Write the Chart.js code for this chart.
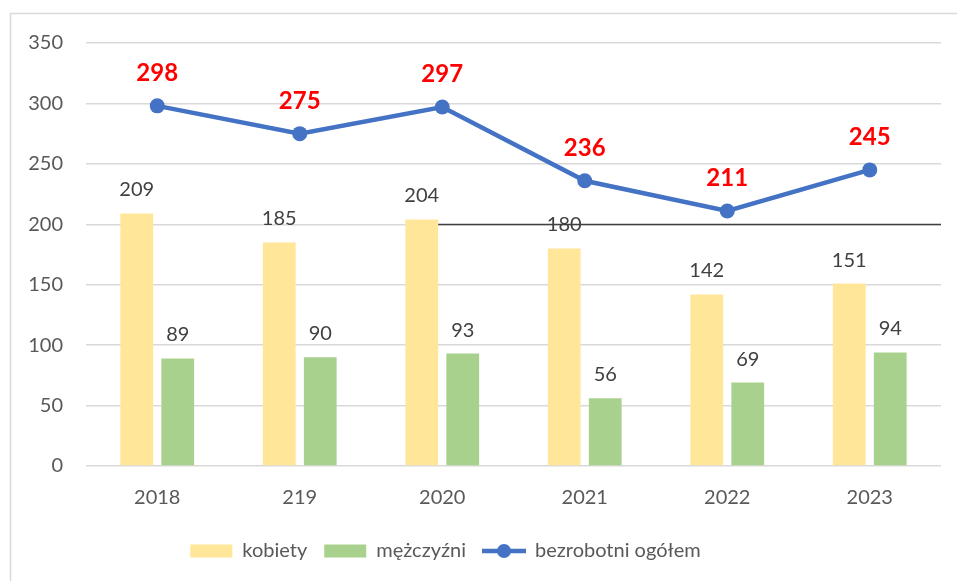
<!DOCTYPE html>
<html><head><meta charset="utf-8">
<script src="https://cdn.jsdelivr.net/npm/chart.js@4/dist/chart.umd.min.js"></script>
<style>html,body{margin:0;padding:0;background:#fff}</style>
</head><body>
<canvas id="c" width="957" height="581"></canvas>
<script>
const categories = ['2018', '219', '2020', '2021', '2022', '2023'];
const kobiety = [209, 185, 204, 180, 142, 151];
const mezczyzni = [89, 90, 93, 56, 69, 94];
const ogolem = [298, 275, 297, 236, 211, 245];
const seriesNames = ['kobiety', 'mężczyźni', 'bezrobotni ogółem'];
const yMin = 0, yMax = 350, yStep = 50;
const darkLineValue = 200;

const FONT = 'Lato, "Open Sans", sans-serif';
const BLUE = '#4472C4', YELLOW = '#FFE699', GREEN = '#A9D18E';

const lineIcon = document.createElement('canvas');
lineIcon.width = 44; lineIcon.height = 16;
(function(){
  const g = lineIcon.getContext('2d');
  g.strokeStyle = BLUE; g.lineWidth = 4.5;
  g.beginPath(); g.moveTo(0, 8); g.lineTo(44, 8); g.stroke();
  g.fillStyle = BLUE; g.beginPath(); g.arc(22, 8, 7, 0, Math.PI * 2); g.fill();
})();

const decor = {
  id: 'decor',
  beforeDraw(chart) {
    const ctx = chart.ctx;
    ctx.save();
    ctx.strokeStyle = '#D9D9D9'; ctx.lineWidth = 1.5;
    ctx.strokeRect(10.5, 13.5, 1000, 700);
    ctx.restore();
  },
  afterLayout(chart) {
    chart.legend.left -= 25; chart.legend.right -= 25;
  },
  afterDatasetsDraw(chart) {
    const ctx = chart.ctx;
    ctx.save();
    ctx.textAlign = 'center';
    ctx.textBaseline = 'alphabetic';
    chart.data.datasets.forEach((ds, di) => {
      const meta = chart.getDatasetMeta(di);
      meta.data.forEach((el, i) => {
        const v = ds.data[i];
        if (ds.type === 'line') {
          ctx.font = 'bold 24px ' + FONT; ctx.fillStyle = '#FF0000';
          ctx.fillText(String(v), el.x, el.y - 25);
        } else {
          ctx.font = '20px ' + FONT; ctx.fillStyle = '#404040';
          ctx.fillText(String(v), el.x, el.y - 17);
        }
      });
    });
    ctx.restore();
  },
  afterDraw(chart) {
    const ctx = chart.ctx;
    const y = Math.round(chart.scales.y.getPixelForValue(darkLineValue)) + 0.5;
    const bar = chart.getDatasetMeta(0).data[2];
    ctx.save();
    ctx.strokeStyle = '#404040'; ctx.lineWidth = 1.5;
    ctx.beginPath(); ctx.moveTo(bar.x + bar.width / 2, y); ctx.lineTo(chart.chartArea.right, y); ctx.stroke();
    ctx.restore();
  }
};

new Chart(document.getElementById('c'), {
  data: {
    labels: categories,
    datasets: [
      { type: 'bar', label: seriesNames[0], data: kobiety, backgroundColor: YELLOW, borderWidth: 0,
        categoryPercentage: 0.575, barPercentage: 0.8 },
      { type: 'bar', label: seriesNames[1], data: mezczyzni, backgroundColor: GREEN, borderWidth: 0,
        categoryPercentage: 0.575, barPercentage: 0.8 },
      { type: 'line', label: seriesNames[2], data: ogolem, borderColor: BLUE, backgroundColor: BLUE,
        borderWidth: 4.5, pointRadius: 7.5, pointBorderWidth: 0, pointBackgroundColor: BLUE, tension: 0 }
    ]
  },
  options: {
    responsive: false,
    animation: false,
    devicePixelRatio: 1,
    layout: { padding: { left: 0, right: 16, top: 43, bottom: 10 } },
    plugins: {
      tooltip: { enabled: false },
      legend: {
        position: 'bottom',
        labels: {
          usePointStyle: true, pointStyleWidth: 42, boxHeight: 13, padding: 17,
          color: '#595959', font: { family: FONT, size: 20 },
          generateLabels(chart) {
            const items = Chart.defaults.plugins.legend.labels.generateLabels(chart);
            items.forEach((it, i) => {
              if (i < 2) { it.pointStyle = 'rect'; it.lineWidth = 0; it.strokeStyle = it.fillStyle; }
              else { it.pointStyle = lineIcon; it.lineWidth = 0; }
            });
            return items;
          }
        }
      }
    },
    scales: {
      x: {
        grid: { display: false, drawTicks: false },
        border: { display: false },
        ticks: { color: '#595959', font: { family: FONT, size: 20 }, padding: 20 },
        afterFit(s) { s.height = 58; }
      },
      y: {
        min: yMin, max: yMax,
        grid: { color: '#D9D9D9', lineWidth: 1.5, drawTicks: false },
        border: { display: false },
        ticks: { stepSize: yStep, color: '#595959', font: { family: FONT, size: 20 }, padding: 23 },
        afterFit(s) { s.width = 86; }
      }
    }
  },
  plugins: [decor]
});
</script>
</body></html>
